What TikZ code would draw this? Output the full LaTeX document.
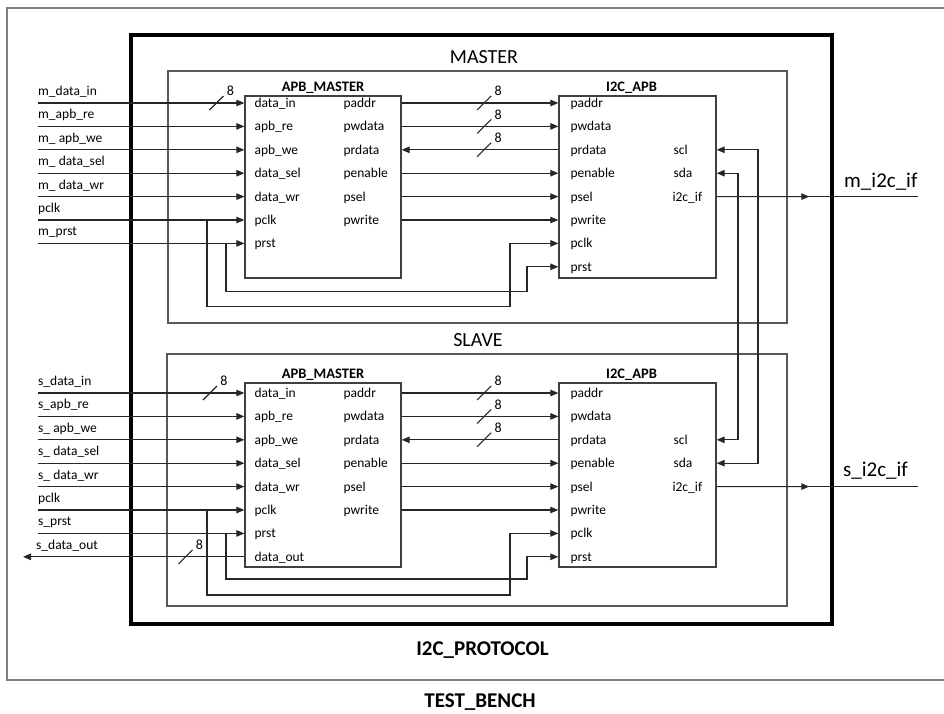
\documentclass[tikz,border=0pt]{standalone}
\usepackage{fontspec}
\setmainfont{Carlito}
\usetikzlibrary{arrows.meta,calc}

\begin{document}
\begin{tikzpicture}[
  x=1pt, y=-1pt,
  font=\fontsize{13.5}{16}\selectfont,
  >={Triangle[length=8pt,width=6.5pt]},
  wire/.style={line width=1.1pt, draw=black!85},
  block/.style={rectangle, draw=black!75, line width=1.3pt,
    minimum width=156pt, inner sep=0pt},
  group/.style={rectangle, draw=black!65, line width=1.4pt, inner sep=0pt},
  chip/.style={rectangle, draw=black, line width=4pt, inner sep=0pt},
  bench/.style={draw=black!50, line width=2pt},
  siglbl/.style={anchor=base west, yshift=7.5pt, inner sep=0pt},
  port/.style={anchor=base west, yshift=-4.5pt, inner sep=0pt},
  title/.style={anchor=base, font=\fontsize{14.5}{17}\selectfont\bfseries, inner sep=0pt},
  head/.style={anchor=base, font=\fontsize{20}{24}\selectfont, inner sep=0pt},
  outlbl/.style={anchor=base west, font=\fontsize{21}{24}\selectfont, inner sep=0pt},
  big/.style={anchor=base, font=\fontsize{21}{24}\selectfont\bfseries, inner sep=0pt},
  buswidth/.pic={
    \draw[wire] (-7,7) -- (7,-7);
    \node[font=\fontsize{14}{16}\selectfont, inner sep=0pt] (-num) at (14,-12) {8};},
]
\useasboundingbox (0,0) rectangle (944,713);

% ---- Test bench and protocol frames ----
\draw[bench] (7,7.5) rectangle (960,680);
\node[big] (tblbl) at (480,707) {TEST\_BENCH};
\node[chip, minimum width=701pt, minimum height=589pt] (proto) at (481.5,329.5) {};
\node[big] (prlbl) at (482.5,655) {I2C\_PROTOCOL};

% ---- Master / slave groups ----
\node[group, minimum width=619pt, minimum height=252pt] (mgrp) at (477.5,197) {};
\node[head] (mhd) at (484,63.5) {MASTER};
\node[group, minimum width=620pt, minimum height=252pt] (sgrp) at (477,480) {};
\node[head] (shd) at (478,346.7) {SLAVE};

% ---- Blocks ----
\node[block, minimum height=182pt] (mapb) at (323,187) {};
\node[block, minimum height=182pt, minimum width=157pt] (mi2c) at (637.5,187) {};
\node[block, minimum height=184pt] (sapb) at (323,475) {};
\node[block, minimum height=184pt, minimum width=157pt] (si2c) at (637.5,475) {};
\node[title] (mapbt) at ([yshift=4pt]mapb.north) {APB\_MASTER};
\node[title] (mi2ct) at ([yshift=4pt, xshift=-6pt]mi2c.north) {I2C\_APB};
\node[title] (sapbt) at ([yshift=4pt]sapb.north) {APB\_MASTER};
\node[title] (si2ct) at ([yshift=4pt, xshift=-6pt]si2c.north) {I2C\_APB};

% ---- Master inputs ----
\foreach \n/\yy/\sig/\prt in {
    1/103.0/m\_data\_in/data\_in,
    2/126.4/m\_apb\_re/apb\_re,
    3/149.8/m\_ apb\_we/apb\_we,
    4/173.2/m\_ data\_sel/data\_sel,
    5/196.6/m\_ data\_wr/data\_wr,
    6/220.0/pclk/pclk,
    7/243.4/m\_prst/prst}{
  \coordinate (mi\n) at (38,\yy);
  \node[siglbl] (ml\n) at (mi\n) {\sig};
  \draw[wire,->] (mi\n) -- (mapb.west |- mi\n);
  \node[port, xshift=10pt] (mp\n) at (mapb.west |- mi\n) {\prt};
}
\coordinate (mi8) at (38,266.8);
\pic (mbw0) at ($(mi1)+(178.5,0)$) {buswidth};

% ---- Master APB to I2C ----
\foreach \n/\prt in {1/paddr,2/pwdata,3/prdata,4/penable,5/psel,6/pwrite}
  \node[port, xshift=99pt] (mq\n) at (mapb.west |- mi\n) {\prt};
\foreach \n/\prt in {1/paddr,2/pwdata,3/prdata,4/penable,5/psel,6/pwrite,7/pclk,8/prst}
  \node[port, xshift=12pt] (mr\n) at (mi2c.west |- mi\n) {\prt};
\node[port, xshift=115pt] (ms3) at (mi2c.west |- mi3) {scl};
\node[port, xshift=115pt] (ms4) at (mi2c.west |- mi4) {sda};
\node[port, xshift=114pt] (ms5) at (mi2c.west |- mi5) {i2c\_if};
\foreach \n in {1,2,4,5,6}
  \draw[wire,->] (mapb.east |- mi\n) -- (mi2c.west |- mi\n);
\draw[wire,<-] (mapb.east |- mi3) -- (mi2c.west |- mi3);
\foreach \n in {1,2,3}
  \pic (mbw\n) at ($(mapb.east |- mi\n)+(82.5,0)$) {buswidth};

% ---- Master clock / reset return ----
\coordinate (mck1) at (207,306.7);
\coordinate (mck2) at (510,306.7);
\coordinate (mrs1) at (226,291.7);
\coordinate (mrs2) at (527,291.7);
\draw[wire,->] (mck1 |- mi6) -- (mck1) -- (mck2) |- (mi2c.west |- mi7);
\draw[wire,->] (mrs1 |- mi7) -- (mrs1) -- (mrs2) |- (mi2c.west |- mi8);

% ---- Master output ----
\coordinate (mout) at (918,196.6);
\draw[wire] (mi2c.east |- mi5) -- (mout);
\draw[wire,->] (mi2c.east |- mi5) -- ($(mi2c.east |- mi5)!.46!(mout)$);
\node[outlbl] (mol) at (844,187) {m\_i2c\_if};

% ---- Slave inputs ----
\foreach \n/\yy/\sig/\prt in {
    1/393.0/s\_data\_in/data\_in,
    2/416.4/s\_apb\_re/apb\_re,
    3/439.8/s\_ apb\_we/apb\_we,
    4/463.2/s\_ data\_sel/data\_sel,
    5/486.6/s\_ data\_wr/data\_wr,
    6/510.0/pclk/pclk,
    7/533.4/s\_prst/prst}{
  \coordinate (si\n) at (38,\yy);
  \node[siglbl] (sl\n) at (si\n) {\sig};
  \draw[wire,->] (si\n) -- (sapb.west |- si\n);
  \node[port, xshift=10pt] (sp\n) at (sapb.west |- si\n) {\prt};
}
\coordinate (si8) at (23,556.8);
\draw[wire,->] (sapb.west |- si8) -- (si8);
\node[siglbl, xshift=13pt] (sl8) at (si8) {s\_data\_out};
\node[port, xshift=10pt] (sp8) at (sapb.west |- si8) {data\_out};
\pic (sbw0) at ($(si1)+(172,0)$) {buswidth};
\pic (sbw8) at ($(si8)+(162.5,0)$) {buswidth};

% ---- Slave APB to I2C ----
\foreach \n/\prt in {1/paddr,2/pwdata,3/prdata,4/penable,5/psel,6/pwrite}
  \node[port, xshift=99pt] (sq\n) at (sapb.west |- si\n) {\prt};
\foreach \n/\prt in {1/paddr,2/pwdata,3/prdata,4/penable,5/psel,6/pwrite,7/pclk,8/prst}
  \node[port, xshift=12pt] (sr\n) at (si2c.west |- si\n) {\prt};
\node[port, xshift=115pt] (ss3) at (si2c.west |- si3) {scl};
\node[port, xshift=115pt] (ss4) at (si2c.west |- si4) {sda};
\node[port, xshift=114pt] (ss5) at (si2c.west |- si5) {i2c\_if};
\foreach \n in {1,2,4,5,6}
  \draw[wire,->] (sapb.east |- si\n) -- (si2c.west |- si\n);
\draw[wire,<-] (sapb.east |- si3) -- (si2c.west |- si3);
\foreach \n in {1,2,3}
  \pic (sbw\n) at ($(sapb.east |- si\n)+(82.5,0)$) {buswidth};

% ---- Slave clock / reset return ----
\coordinate (sck1) at (207,595);
\coordinate (sck2) at (510,595);
\coordinate (srs1) at (226,579);
\coordinate (srs2) at (527,579);
\draw[wire,->] (sck1 |- si6) -- (sck1) -- (sck2) |- (si2c.west |- si7);
\draw[wire,->] (srs1 |- si7) -- (srs1) -- (srs2) |- (si2c.west |- si8);

% ---- Slave output ----
\coordinate (sout) at (918,486.6);
\draw[wire] (si2c.east |- si5) -- (sout);
\draw[wire,->] (si2c.east |- si5) -- ($(si2c.east |- si5)!.46!(sout)$);
\node[outlbl] (sol) at (843,476.7) {s\_i2c\_if};

% ---- scl / sda between master and slave ----
\coordinate (sclA) at (758,300);
\coordinate (sdaB) at (738,300);
\draw[wire,<->] (mi2c.east |- mi3) -| (sclA) |- (si2c.east |- si4);
\draw[wire,<->] (mi2c.east |- mi4) -| (sdaB) |- (si2c.east |- si3);

\end{tikzpicture}
\end{document}
